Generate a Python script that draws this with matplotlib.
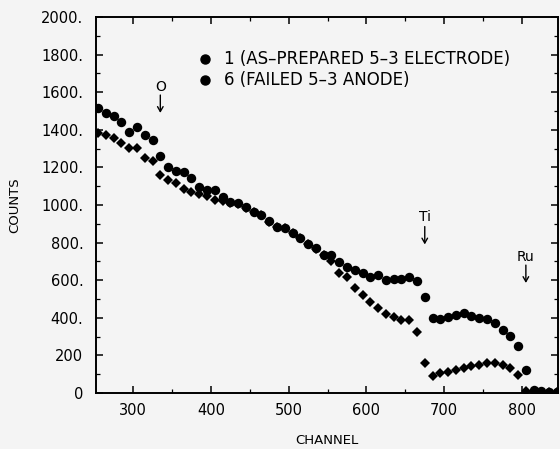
import matplotlib
matplotlib.use("Agg")
import matplotlib.pyplot as plt
from matplotlib.ticker import MultipleLocator

channels = [255, 265, 275, 285, 295, 305, 315, 325, 335, 345,
            355, 365, 375, 385, 395, 405, 415, 425, 435, 445,
            455, 465, 475, 485, 495, 505, 515, 525, 535, 545,
            555, 565, 575, 585, 595, 605, 615, 625, 635, 645,
            655, 665, 675, 685, 695, 705, 715, 725, 735, 745,
            755, 765, 775, 785, 795, 805, 815, 825, 835, 845]

counts_1 = [1516, 1489, 1473, 1441, 1388, 1415, 1372, 1346, 1261, 1202,
            1181, 1175, 1144, 1096, 1080, 1080, 1040, 1018, 1010, 990,
            965, 947, 915, 885, 880, 852, 826, 790, 770, 732,
            734, 695, 670, 655, 638, 618, 626, 600, 606, 606,
            615, 598, 511, 399, 394, 404, 415, 425, 410, 399,
            394, 372, 335, 303, 250, 122, 15, 10, 6, 4]

counts_6 = [1383, 1372, 1356, 1330, 1303, 1303, 1250, 1234, 1160, 1133,
            1117, 1085, 1069, 1059, 1048, 1027, 1020, 1010, 1005, 985,
            960, 945, 912, 885, 875, 850, 822, 790, 768, 735,
            700, 640, 617, 559, 521, 484, 452, 422, 404, 388,
            388, 324, 160, 90, 106, 112, 122, 133, 144, 150,
            160, 160, 150, 133, 96, 12, 6, 4, 3, 2]

ytick_vals = [0, 200, 400, 600, 800, 1000, 1200, 1400, 1600, 1800, 2000]
ytick_labels = ["0", "200", "400.", "600.", "800.", "1000.", "1200.", "1400.",
                "1600.", "1800.", "2000."]
xtick_vals = [300, 400, 500, 600, 700, 800]
legend_labels = ["1 (AS\u2013PREPARED 5\u20133 ELECTRODE)", "6 (FAILED 5\u20133 ANODE)"]
# (name, channel, label y, arrow top, arrow bottom)
peaks = [("O", 335, 1630, 1585, 1490),
         ("Ti", 675, 935, 885, 790),
         ("Ru", 805, 725, 680, 585)]

bg = "#f4f4f4"
plt.rcParams['font.family'] = ['DejaVu Sans']
fig = plt.figure(figsize=(5.6, 4.49), dpi=100, facecolor=bg)
ax = fig.add_axes([0.171, 0.125, 0.825, 0.837], facecolor=bg)

ax.plot(channels, counts_6, linestyle='none', marker='D', markersize=4.6,
        color='black', markeredgewidth=0)
ax.plot(channels, counts_1, linestyle='none', marker='o', markersize=6.8,
        color='black', markeredgewidth=0)

ax.set_xlim(252, 846)
ax.set_ylim(0, 2000)
ax.set_yticks(ytick_vals)
ax.set_yticklabels(ytick_labels, fontsize=10.5)
ax.set_xticks(xtick_vals)
ax.set_xticklabels([str(v) for v in xtick_vals], fontsize=10.5)
ax.xaxis.set_minor_locator(MultipleLocator(50))
ax.yaxis.set_minor_locator(MultipleLocator(100))
ax.tick_params(which='both', direction='in', top=True, right=True,
               color='black')
ax.tick_params(axis='y', pad=9)
ax.tick_params(axis='x', pad=7)
ax.tick_params(which='major', length=5, width=1.1)
ax.tick_params(which='minor', length=3, width=0.9)
for s in ax.spines.values():
    s.set_linewidth(1.4)

ax.set_ylabel("COUNTS", fontsize=9.5, labelpad=14)
ax.set_xlabel("CHANNEL", fontsize=9.5, labelpad=12)

# legend drawn as markers + text
for i, lab in enumerate(legend_labels):
    yy = 0.888 - i * 0.056
    ax.plot([0.236], [yy], transform=ax.transAxes, marker='o', markersize=6.5,
            color='black', linestyle='none', clip_on=False)
    ax.text(0.278, yy, lab, transform=ax.transAxes, fontsize=12,
            va='center', ha='left')

# element arrows
for name, ch, ytxt, ya, yb in peaks:
    ax.annotate("", xy=(ch, yb), xytext=(ch, ya),
                arrowprops=dict(arrowstyle='->,head_length=0.35,head_width=0.2',
                                color='black', lw=1.0, shrinkA=0, shrinkB=0))
    ax.text(ch, ytxt, name, ha='center', va='center', fontsize=10)

fig.savefig("out.png", dpi=100, facecolor=bg)
